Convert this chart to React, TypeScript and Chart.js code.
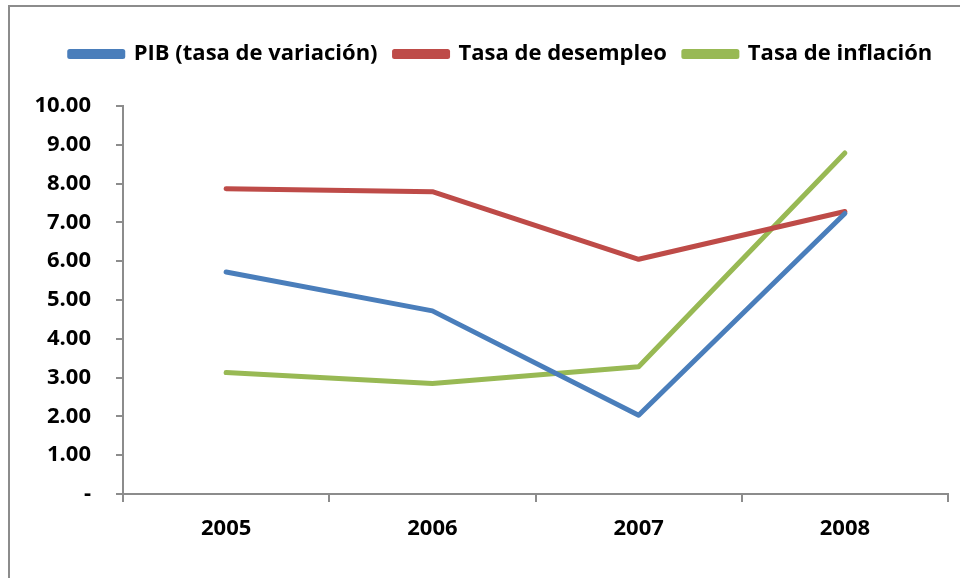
import React, { useEffect, useRef } from "react";
import { Chart, registerables } from "chart.js";

Chart.register(...registerables);

const categories = ["2005", "2006", "2007", "2008"];
const pib = [5.72, 4.72, 2.03, 7.23];
const desempleo = [7.87, 7.79, 6.05, 7.28];
const inflacion = [3.13, 2.85, 3.28, 8.79];
const seriesNames = ["PIB (tasa de variación)", "Tasa de desempleo", "Tasa de inflación"];
const seriesColors = ["#4A7EBB", "#BE4B48", "#98B954"];

const FONT = "'Open Sans', Lato, sans-serif";

const framePlugin = {
  id: "frame",
  afterLayout(chart: any) {
    if (chart.legend) {
      chart.legend.left += 13;
      chart.legend.right += 13;
    }
  },
  beforeDraw(chart: any) {
    const ctx = chart.ctx;
    ctx.save();
    ctx.fillStyle = "#ffffff";
    ctx.fillRect(0, 0, chart.width, chart.height);
    ctx.strokeStyle = "#8c8c8c";
    ctx.lineWidth = 2;
    ctx.beginPath();
    ctx.moveTo(9, chart.height + 2);
    ctx.lineTo(9, 6);
    ctx.lineTo(chart.width + 2, 6);
    ctx.stroke();
    ctx.restore();
  },
};

export default function App() {
  const ref = useRef<HTMLCanvasElement>(null);
  useEffect(() => {
    if (!ref.current) return;
    const data = [pib, desempleo, inflacion];
    const chart = new Chart(ref.current, {
      type: "line",
      data: {
        labels: categories,
        datasets: data.map((d, i) => ({
          label: seriesNames[i],
          data: d,
          borderColor: seriesColors[i],
          backgroundColor: seriesColors[i],
          borderWidth: 5,
          pointRadius: 0,
          tension: 0,
          borderCapStyle: "round" as const,
          borderJoinStyle: "round" as const,
        })),
      },
      options: {
        responsive: false,
        animation: false,
        layout: { padding: { left: 28, right: 12, top: 26, bottom: 0 } },
        plugins: {
          tooltip: { enabled: false },
          legend: {
            position: "top",
            labels: {
              boxWidth: 53,
              boxHeight: 5,
              padding: 17,
              color: "#000",
              font: { family: FONT, size: 22, weight: "bold" },
            },
          },
          subtitle: {
            display: true,
            text: "",
            weight: 500,
            position: "top",
            font: { size: 10 },
            padding: { top: 0, bottom: 19 },
          } as any,
        },
        scales: {
          x: {
            offset: true,
            grid: {
              offset: true,
              drawOnChartArea: false,
              drawTicks: true,
              tickLength: 8,
              color: "#8c8c8c",
              lineWidth: 2,
            },
            border: { color: "#8c8c8c", width: 2 },
            ticks: {
              color: "#000",
              padding: 14,
              font: { family: FONT, size: 22, weight: "bold" },
            },
            afterFit(scale: any) {
              scale.height = 84;
            },
          },
          y: {
            min: 0,
            max: 10,
            grid: {
              drawOnChartArea: false,
              drawTicks: true,
              tickLength: 7,
              color: "#8c8c8c",
              lineWidth: 2,
            },
            border: { color: "#8c8c8c", width: 2 },
            ticks: {
              stepSize: 1,
              color: "#000",
              padding: 25,
              font: { family: FONT, size: 22, weight: "bold" },
              callback: (v: any) => (Number(v) === 0 ? "-" : Number(v).toFixed(2)),
            },
            afterFit(scale: any) {
              scale.width = 95;
            },
          },
        },
      },
      plugins: [framePlugin],
    });
    return () => chart.destroy();
  }, []);
  return (
    <div style={{ position: "fixed", left: 0, top: 0, width: 960, height: 578, background: "#fff" }}>
      <canvas ref={ref} width={960} height={578} />
    </div>
  );
}
